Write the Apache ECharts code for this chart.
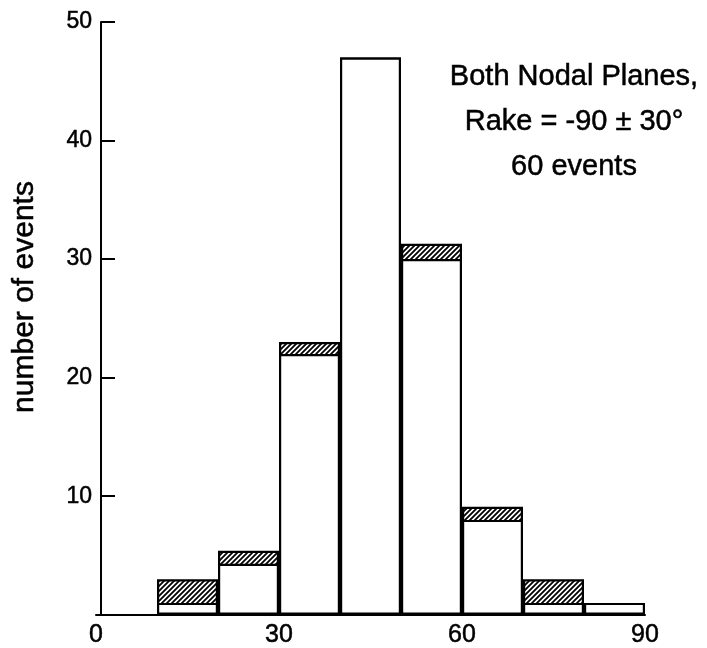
<!DOCTYPE html>
<html>
<head>
<meta charset="utf-8">
<script src="https://cdn.jsdelivr.net/npm/echarts@6/dist/echarts.min.js"></script>
<style>
html,body{margin:0;padding:0;background:#fff;}
#chart{width:707px;height:648px;}
</style>
</head>
<body>
<div id="chart"></div>
<script>
// Bins of dip (degrees), width 10
var binLabels = ['0-10','10-20','20-30','30-40','40-50','50-60','60-70','70-80','80-90'];
// Height of the open (white) part of each bar
var openCounts = ['-', 1, 4.3, 22, 47, 30, 8, 1, 1];
// Total height including hatched top
var totalCounts = ['-', 3, 5.4, 23, 47, 31.3, 9.1, 3, 1];
var xTicks = [0, 30, 60, 90];
var yTicks = [10, 20, 30, 40, 50];
var annotationLines = ['Both Nodal Planes,', 'Rake = -90 \u00b1 30\u00b0', '60 events'];
var yTitle = 'number of events';

var FONT = '"Liberation Sans", Arial, Helvetica, sans-serif';

// hatch pattern "/"
function makeHatch() {
  var s = 5;
  var c = document.createElement('canvas');
  c.width = s; c.height = s;
  var g = c.getContext('2d');
  g.fillStyle = '#fff';
  g.fillRect(0, 0, s, s);
  g.strokeStyle = '#000';
  g.lineWidth = 1.8;
  g.beginPath();
  g.moveTo(-1, s + 1); g.lineTo(s + 1, -1);
  g.moveTo(-1, 1); g.lineTo(1, -1);
  g.moveTo(s - 1, s + 1); g.lineTo(s + 1, s - 1);
  g.stroke();
  return c;
}

var chart = echarts.init(document.getElementById('chart'), null, {renderer: 'canvas'});
var graphics = annotationLines.map(function (t, i) {
  return {
    type: 'text', x: 574, y: 77 + i * 45,
    style: {text: t, font: '29px ' + FONT, fill: '#000', stroke: '#000', lineWidth: 0.5,
            textAlign: 'center', textVerticalAlign: 'middle'}
  };
});
graphics.push({
  type: 'text', x: 25, y: 297, rotation: Math.PI / 2,
  style: {text: yTitle, font: '30px ' + FONT, fill: '#000', stroke: '#000', lineWidth: 0.5,
          textAlign: 'center', textVerticalAlign: 'middle'}
});

chart.setOption({
  animation: false,
  backgroundColor: '#fff',
  grid: {left: 96, right: 62, top: 22, bottom: 31, containLabel: false},
  xAxis: [
    {type: 'category', data: binLabels, show: false, boundaryGap: true},
    {type: 'value', min: 0, max: 90, interval: 30, position: 'bottom',
     axisLine: {show: true, lineStyle: {color: '#000', width: 2}},
     axisTick: {show: false}, splitLine: {show: false},
     axisLabel: {color: '#000', fontSize: 25, fontFamily: FONT, margin: 8,
       textBorderColor: '#000', textBorderWidth: 0.5,
       formatter: function (v) { return xTicks.indexOf(v) >= 0 ? String(v) : ''; }}}
  ],
  yAxis: {
    type: 'value', min: 0, max: 50, interval: 10, offset: -5,
    axisLine: {show: true, lineStyle: {color: '#000', width: 2}},
    axisTick: {show: true, inside: true, length: 14, lineStyle: {color: '#000', width: 2}},
    splitLine: {show: false},
    axisLabel: {color: '#000', fontSize: 23, fontFamily: FONT, margin: 9,
      textBorderColor: '#000', textBorderWidth: 0.5,
      formatter: function (v) { return yTicks.indexOf(v) >= 0 ? String(v) : ''; }}
  },
  series: [
    {type: 'bar', xAxisIndex: 0, data: totalCounts, barCategoryGap: '0%', barGap: '-100%',
     itemStyle: {color: {image: makeHatch(), repeat: 'repeat'}, borderColor: '#000', borderWidth: 2.2}},
    {type: 'bar', xAxisIndex: 0, data: openCounts, barCategoryGap: '0%', barGap: '-100%',
     itemStyle: {color: '#fff', borderColor: '#000', borderWidth: 2.2}}
  ],
  graphic: graphics
});
</script>
</body>
</html>
